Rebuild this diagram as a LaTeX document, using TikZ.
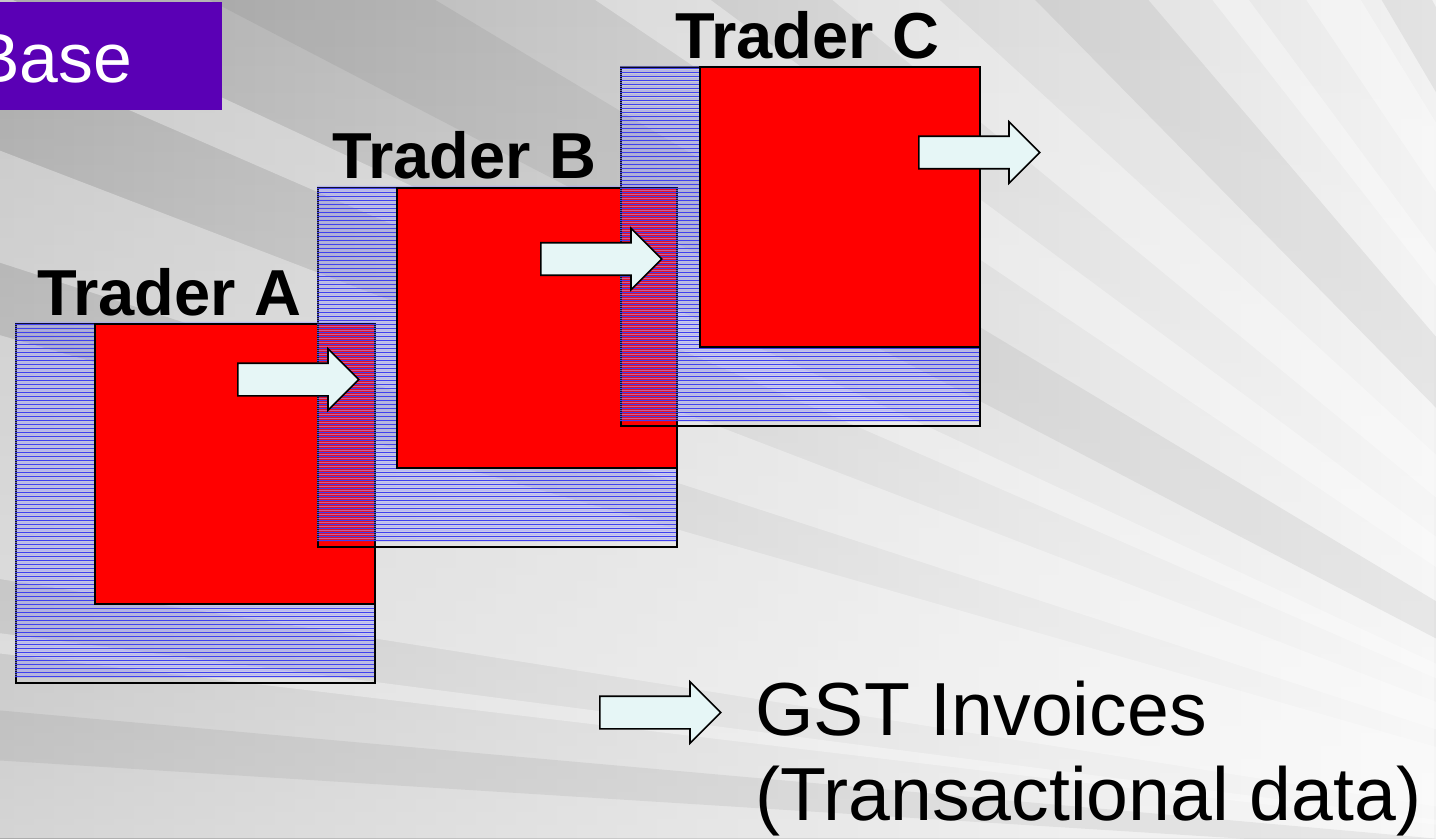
\documentclass[tikz,border=0pt]{standalone}
\usepackage{fontspec}
\setmainfont{Liberation Sans}
\usetikzlibrary{shapes.arrows, fadings}

\definecolor{banner}{HTML}{5A00B5}
\definecolor{hatchblue}{HTML}{4040F0}
\definecolor{hatchlight}{HTML}{A0A0FF}
\definecolor{arrowfill}{HTML}{E6F6F6}

\tikzstyle{tradebase} = [rectangle, draw=black, line width=1.1pt, minimum width=7.18cm, minimum height=7.18cm, inner sep=0pt]
\tikzstyle{hatch} = [fill=hatchblue, draw=none]
\tikzstyle{hatchsoft} = [fill=hatchlight, fill opacity=0.6, draw=none]
\tikzstyle{tradered} = [rectangle, draw=black, line width=1.1pt, fill=red, minimum width=5.6cm, minimum height=5.6cm, inner sep=0pt]
\tikzstyle{invoice} = [single arrow, draw=black, line width=0.9pt, fill=arrowfill, minimum height=2.42cm, inner xsep=0pt, inner ysep=0.31cm, single arrow head extend=0.29cm, single arrow tip angle=90]
\tikzstyle{tradername} = [font=\fontsize{37}{44}\selectfont\bfseries, inner sep=0pt]
\tikzstyle{legendtext} = [font=\fontsize{42.8}{48}\selectfont, inner sep=0pt]
\tikzstyle{ray} = [white, opacity=0.35]
\tikzstyle{shadowray} = [black, opacity=0.06]

\begin{document}
\begin{tikzpicture}[x=0.02cm, y=-0.02cm]
\useasboundingbox (0,0) rectangle (1436,838);

% background rays
\begin{scope}
\clip (0,0) rectangle (1436,838);
\shade[left color=gray!66, right color=gray!10] (0,0) rectangle (1436,838);
\fill[white, opacity=0.5, path fading=north] (0,0) rectangle (1436,838);
\coordinate (focus) at (1900,880);
\foreach \a/\b in {186.8/187.4, 189/196, 198/201, 203.5/205, 214/216.5, 219.5/222.5, 232/233.5, 236/238.5, 243/246, 250/252}
  \fill[ray] (focus) -- +(\a:3000) -- +(\b:3000) -- cycle;
\foreach \a/\b in {183.6/185.1, 207.5/211, 225.5/229.5, 239.5/242}
  \fill[shadowray] (focus) -- +(\a:3000) -- +(\b:3000) -- cycle;
\end{scope}

% title box
\node (taxbox) [fill=banner, minimum width=6cm, minimum height=2.16cm, inner sep=0pt, anchor=north east] at (222,2) {};
\node (taxlabel) [anchor=base west, inner sep=0pt, text=white, font=\fontsize{39.7}{46}\selectfont] at (-27,83) {Base};

% traders: hatched base, then red block
\node (baseA) [tradebase, anchor=north west] at (15,323) {};
\path[hatchsoft] \foreach \k in {1,...,89} {(15,319+4*\k) rectangle ++(359,-1.2)};
\path[hatch] \foreach \k in {1,...,89} {(15,321+4*\k) rectangle ++(359,-1.2)};
\node (redA) [tradered, anchor=north east] at (baseA.north east) {};

\node (baseB) [tradebase, anchor=north west] at (317,187) {};
\path[hatchsoft] \foreach \k in {1,...,89} {(317,183+4*\k) rectangle ++(359,-1.2)};
\path[hatch] \foreach \k in {1,...,89} {(317,185+4*\k) rectangle ++(359,-1.2)};
\node (redB) [tradered, anchor=north east] at (baseB.north east) {};

\node (baseC) [tradebase, anchor=north west] at (620,66) {};
\path[hatchsoft] \foreach \k in {1,...,89} {(620,63+4*\k) rectangle ++(359,-1.2)};
\path[hatch] \foreach \k in {1,...,89} {(620,65+4*\k) rectangle ++(359,-1.2)};
\node (redC) [tradered, anchor=north east] at (baseC.north east) {};

\node (nameA) [tradername, anchor=base west] at (37,315) {Trader A};
\node (nameB) [tradername, anchor=base west] at (332,178) {Trader B};
\node (nameC) [tradername, anchor=base west] at (675,59) {Trader C};

% invoices
\node (flowA) [invoice, anchor=tail] at (237,379.5) {};
\node (flowB) [invoice, anchor=tail] at (540,259) {};
\node (flowC) [invoice, anchor=tail] at (918,152.5) {};

% legend
\node (flowkey) [invoice, anchor=tail] at (599,712.5) {};
\node (gstnote) [legendtext, anchor=base west] at (755,735) {GST Invoices};
\node (txnote) [legendtext, anchor=base west] at (755,820) {(Transactional data)};

\end{tikzpicture}
\end{document}
